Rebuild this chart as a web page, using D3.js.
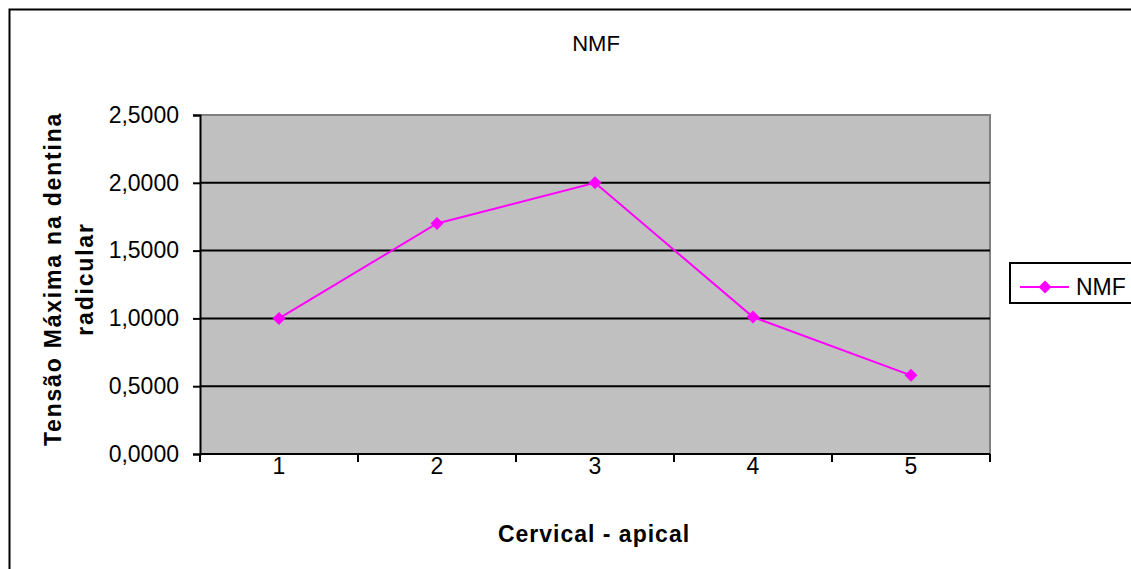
<!DOCTYPE html>
<html>
<head>
<meta charset="utf-8">
<script src="https://cdn.jsdelivr.net/npm/d3@7"></script>
<style>
  html, body { margin: 0; padding: 0; background: #fff; }
  svg { display: block; font-family: "Liberation Sans", Arial, sans-serif; }
</style>
</head>
<body>
<svg id="chart" width="1131" height="569"></svg>
<script>
// Chart data
const categories = ["1", "2", "3", "4", "5"];
const nmfValues = [1.0, 1.70, 2.0, 1.01, 0.58];
const yTicks = [0, 0.5, 1.0, 1.5, 2.0, 2.5];
const seriesName = "NMF";
const chartTitle = "NMF";
const xTitle = "Cervical - apical";
const yTitleLines = ["Tensão Máxima na dentina", "radicular"];

const svg = d3.select("#chart");
const plot = { left: 200, top: 115, right: 990, bottom: 454 };

const x = d3.scaleBand().domain(categories).range([plot.left, plot.right]);
const y = d3.scaleLinear().domain([0, 2.5]).range([plot.bottom, plot.top]);
const fmt = v => d3.format(".4f")(v).replace(".", ",");
const marker = d3.symbol().type(d3.symbolSquare).size(85);

// Outer chart frame
svg.append("rect")
  .attr("x", 9.5).attr("y", 9.5).attr("width", 1200).attr("height", 600)
  .attr("fill", "#fff").attr("stroke", "#000").attr("stroke-width", 2);

// Plot area background
svg.append("rect")
  .attr("x", plot.left).attr("y", plot.top)
  .attr("width", plot.right - plot.left).attr("height", plot.bottom - plot.top)
  .attr("fill", "#c0c0c0");

// Plot border top/right in grey
svg.append("path")
  .attr("d", `M${plot.left},${plot.top}H${plot.right}V${plot.bottom}`)
  .attr("fill", "none").attr("stroke", "#808080").attr("stroke-width", 2);

// Horizontal gridlines
svg.append("g").selectAll("line")
  .data(yTicks.filter(t => t > 0 && t < 2.5))
  .join("line")
  .attr("x1", plot.left).attr("x2", plot.right)
  .attr("y1", d => y(d)).attr("y2", d => y(d))
  .attr("stroke", "#000").attr("stroke-width", 2);

// Y axis
const yAxis = svg.append("g")
  .attr("transform", `translate(${plot.left},0)`)
  .call(d3.axisLeft(y).tickValues(yTicks).tickFormat(fmt).tickSizeOuter(0).tickSize(7).tickPadding(14));
yAxis.select(".domain").attr("stroke", "#000").attr("stroke-width", 2);
yAxis.selectAll(".tick line").attr("stroke", "#000").attr("stroke-width", 2);
yAxis.selectAll(".tick text")
  .attr("font-size", 23).attr("fill", "#000")
  .attr("font-family", "Liberation Sans, Arial, sans-serif");

// X axis with ticks at category boundaries
const xAxis = svg.append("g")
  .attr("transform", `translate(0,${plot.bottom})`);
xAxis.append("line")
  .attr("x1", plot.left).attr("x2", plot.right)
  .attr("stroke", "#000").attr("stroke-width", 2);
const bounds = categories.map(c => x(c)).concat([x(categories[categories.length - 1]) + x.bandwidth()]);
xAxis.selectAll("line.tk").data(bounds).join("line").attr("class", "tk")
  .attr("x1", d => d).attr("x2", d => d).attr("y1", 0).attr("y2", 8)
  .attr("stroke", "#000").attr("stroke-width", 2);
xAxis.selectAll("text").data(categories).join("text")
  .attr("x", d => x(d) + x.bandwidth() / 2).attr("y", 20)
  .attr("text-anchor", "middle").attr("font-size", 23).attr("fill", "#000")
  .text(d => d);

// Series line and diamond markers
const line = d3.line()
  .x((d, i) => x(categories[i]) + x.bandwidth() / 2)
  .y(d => y(d));
svg.append("path").datum(nmfValues)
  .attr("d", line).attr("fill", "none")
  .attr("stroke", "#ff00ff").attr("stroke-width", 2);
svg.append("g").selectAll("path").data(nmfValues).join("path")
  .attr("transform", (d, i) => `translate(${x(categories[i]) + x.bandwidth() / 2},${y(d)}) rotate(45)`)
  .attr("d", marker)
  .attr("fill", "#ff00ff");

// Title
svg.append("text")
  .attr("x", 596).attr("y", 51)
  .attr("text-anchor", "middle").attr("font-size", 22).attr("fill", "#000")
  .text(chartTitle);

// Axis titles
svg.append("text")
  .attr("x", 594).attr("y", 542)
  .attr("text-anchor", "middle").attr("font-size", 23).attr("font-weight", "bold")
  .attr("letter-spacing", 1).attr("fill", "#000")
  .text(xTitle);

const yt = svg.append("text")
  .attr("transform", "translate(61,279) rotate(-90)")
  .attr("text-anchor", "middle").attr("font-size", 23).attr("font-weight", "bold")
  .attr("letter-spacing", 1.8).attr("fill", "#000");
yt.selectAll("tspan").data(yTitleLines).join("tspan")
  .attr("x", 0).attr("dy", (d, i) => i === 0 ? 0 : 32)
  .text(d => d);

// Legend
const lg = svg.append("g");
lg.append("rect")
  .attr("x", 1010).attr("y", 263).attr("width", 160).attr("height", 40)
  .attr("fill", "#fff").attr("stroke", "#000").attr("stroke-width", 2);
lg.append("line")
  .attr("x1", 1020).attr("x2", 1069).attr("y1", 287).attr("y2", 287)
  .attr("stroke", "#ff00ff").attr("stroke-width", 2);
lg.append("path")
  .attr("transform", "translate(1045,287) rotate(45)")
  .attr("d", marker)
  .attr("fill", "#ff00ff");
lg.append("text")
  .attr("x", 1076).attr("y", 295)
  .attr("font-size", 23).attr("fill", "#000")
  .text(seriesName);
</script>
</body>
</html>
